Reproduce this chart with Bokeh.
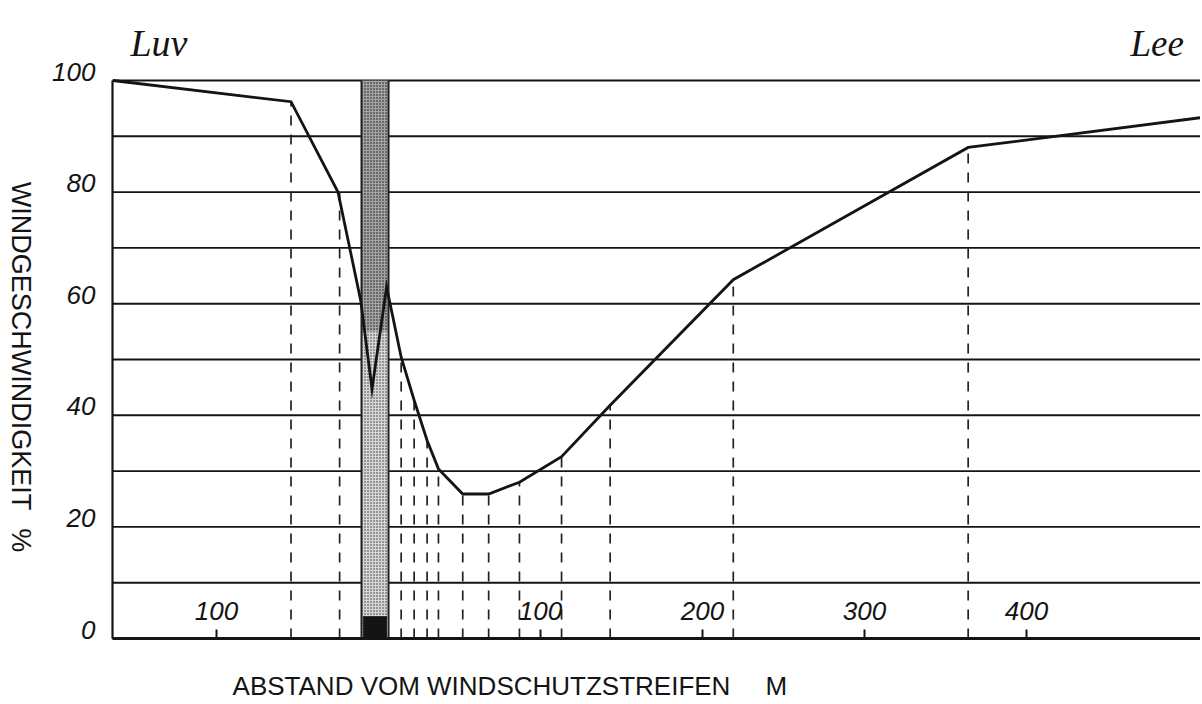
import math
from bokeh.plotting import figure
from bokeh.models import FixedTicker, Label, Range1d
from bokeh.core.properties import value
from bokeh.embed import file_html
from bokeh.resources import INLINE

# ---- data (distance from windbreak in m, windward negative; wind speed in %) ----
dist_m = [-164, -54, -25, -11, -4, 5, 14, 22, 30, 37, 52, 68, 87, 113, 143, 219, 364, 509]
speed_pct = [100, 96.2, 80, 60.6, 44.7, 63, 50.4, 42.7, 35.5, 30.4, 25.9, 25.9, 28.0, 32.6, 41.8, 64.3, 88.0, 93.4]

# measuring points (dashed drop lines)
meas_x = [-54, -24, 14, 22, 30, 37, 52, 68, 87, 113, 143, 219, 364]
meas_y = [96.2, 80, 50.4, 42.7, 35.5, 30.4, 25.9, 25.9, 28.0, 32.6, 41.8, 64.3, 88.0]

# windbreak strip
strip_x = [-10.5, 6.2]

x_tick_vals = [-100, 100, 200, 300, 400]
x_tick_labels = ["100", "100", "200", "300", "400"]
y_tick_vals = [0, 20, 40, 60, 80, 100]
y_tick_labels = ["0", "20", "40", "60", "80", "100"]
y_grid_vals = [0, 10, 20, 30, 40, 50, 60, 70, 80, 90, 100]

# chart extent (data units)
x_start, x_end = -164.2, 507.4
y_start, y_end = 0, 100

W, H = 1200, 704
PX_PER_M = 1.62
X0_PX = 378.0
PX_PER_PCT = 5.58
Y0_PX = 638.0

xr = Range1d(-X0_PX / PX_PER_M, (W - X0_PX) / PX_PER_M)
yr = Range1d((Y0_PX - H) / PX_PER_PCT, Y0_PX / PX_PER_PCT)

p = figure(width=W, height=H, x_range=xr, y_range=yr,
           output_backend="svg", toolbar_location=None)
p.min_border = 0
p.min_border_left = 0
p.min_border_right = 0
p.min_border_top = 0
p.min_border_bottom = 0
p.outline_line_color = None
p.background_fill_color = "white"
p.border_fill_color = "white"
p.xgrid.visible = False
p.ygrid.visible = False

INK = "#141414"

# horizontal grid lines (only across the chart area)
p.segment(x0=[x_start] * len(y_grid_vals), y0=y_grid_vals,
          x1=[x_end + 20] * len(y_grid_vals), y1=y_grid_vals,
          line_color=INK, line_width=1.9)

# axes placed at the chart edges
p.xaxis.fixed_location = y_start
p.xaxis.bounds = (x_start, x_end + 20)
p.xaxis.ticker = FixedTicker(ticks=x_tick_vals)
p.xaxis.major_label_overrides = {v: "" for v in x_tick_vals}
p.xaxis.major_tick_in = 9
p.xaxis.major_tick_out = 0
p.xaxis.major_tick_line_width = 2
p.xaxis.major_tick_line_color = INK
p.xaxis.minor_tick_line_color = None
p.xaxis.axis_line_width = 2.8
p.xaxis.axis_line_color = INK

p.yaxis.fixed_location = x_start
p.yaxis.bounds = (y_start, y_end)
p.yaxis.ticker = FixedTicker(ticks=y_tick_vals)
p.yaxis.major_label_overrides = {v: "" for v in y_tick_vals}
p.yaxis.major_tick_in = 0
p.yaxis.major_tick_out = 0
p.yaxis.minor_tick_line_color = None
p.yaxis.axis_line_width = 2.2
p.yaxis.axis_line_color = INK

# windbreak strip (stippled)
p.quad(left=strip_x[0], right=strip_x[1], bottom=0, top=55,
       fill_color="#d6d6d6", line_color=None,
       hatch_pattern="dot", hatch_color="#333333", hatch_scale=3, hatch_weight=1)
p.quad(left=strip_x[0], right=strip_x[1], bottom=55, top=100,
       fill_color="#a4a4a4", line_color=None,
       hatch_pattern="dot", hatch_color="#111111", hatch_scale=3, hatch_weight=1.3)
p.segment(x0=strip_x, y0=[0, 0], x1=strip_x, y1=[100, 100], line_color="#222222", line_width=2)
p.quad(left=strip_x[0] + 1, right=strip_x[1] - 1, bottom=0, top=4, fill_color=INK, line_color=None)

# dashed drop lines
p.segment(x0=meas_x, y0=[0] * len(meas_x), x1=meas_x, y1=meas_y,
          line_color="#222222", line_width=1.7, line_dash="10 9")

# wind speed profile
p.line(dist_m, speed_pct, line_color=INK, line_width=2.8, line_join="miter")

# tick labels
p.text(x=x_tick_vals, y=[5] * len(x_tick_vals), text=x_tick_labels,
       text_align="center", text_baseline="middle",
       text_font=value("Liberation Sans"), text_font_style="italic",
       text_font_size="26px", text_color=INK)
p.text(x=[x_start] * len(y_tick_vals), y=y_tick_vals, text=y_tick_labels,
       x_offset=-17, text_align="right", text_baseline="bottom",
       text_font=value("Liberation Sans"), text_font_style="italic",
       text_font_size="26px", text_color=INK)

# side labels
p.add_layout(Label(x=-153.1, y=106.8, text="Luv", text_font="Liberation Serif",
                   text_font_style="italic", text_font_size="38px", text_color=INK,
                   text_baseline="alphabetic"))
p.add_layout(Label(x=464.2, y=106.6, text="Lee", text_font="Liberation Serif",
                   text_font_style="italic", text_font_size="37px", text_color=INK,
                   text_baseline="alphabetic"))

# axis titles
p.add_layout(Label(x=-220.4, y=52.4, text="WINDGESCHWINDIGKEIT", angle=-math.pi / 2,
                   text_font="Liberation Sans", text_font_size="27px", text_color=INK,
                   text_align="center", text_baseline="middle"))
p.add_layout(Label(x=-220.4, y=17.6, text="%", angle=-math.pi / 2,
                   text_font="Liberation Sans", text_font_size="27px", text_color=INK,
                   text_align="center", text_baseline="middle"))
p.add_layout(Label(x=-90.1, y=-8.6, text="ABSTAND VOM WINDSCHUTZSTREIFEN",
                   text_font="Liberation Sans", text_font_size="26px", text_color=INK,
                   text_align="left", text_baseline="middle"))
p.add_layout(Label(x=238.9, y=-8.6, text="M",
                   text_font="Liberation Sans", text_font_size="26px", text_color=INK,
                   text_align="left", text_baseline="middle"))

open("out.html", "w").write(file_html(p, INLINE))
